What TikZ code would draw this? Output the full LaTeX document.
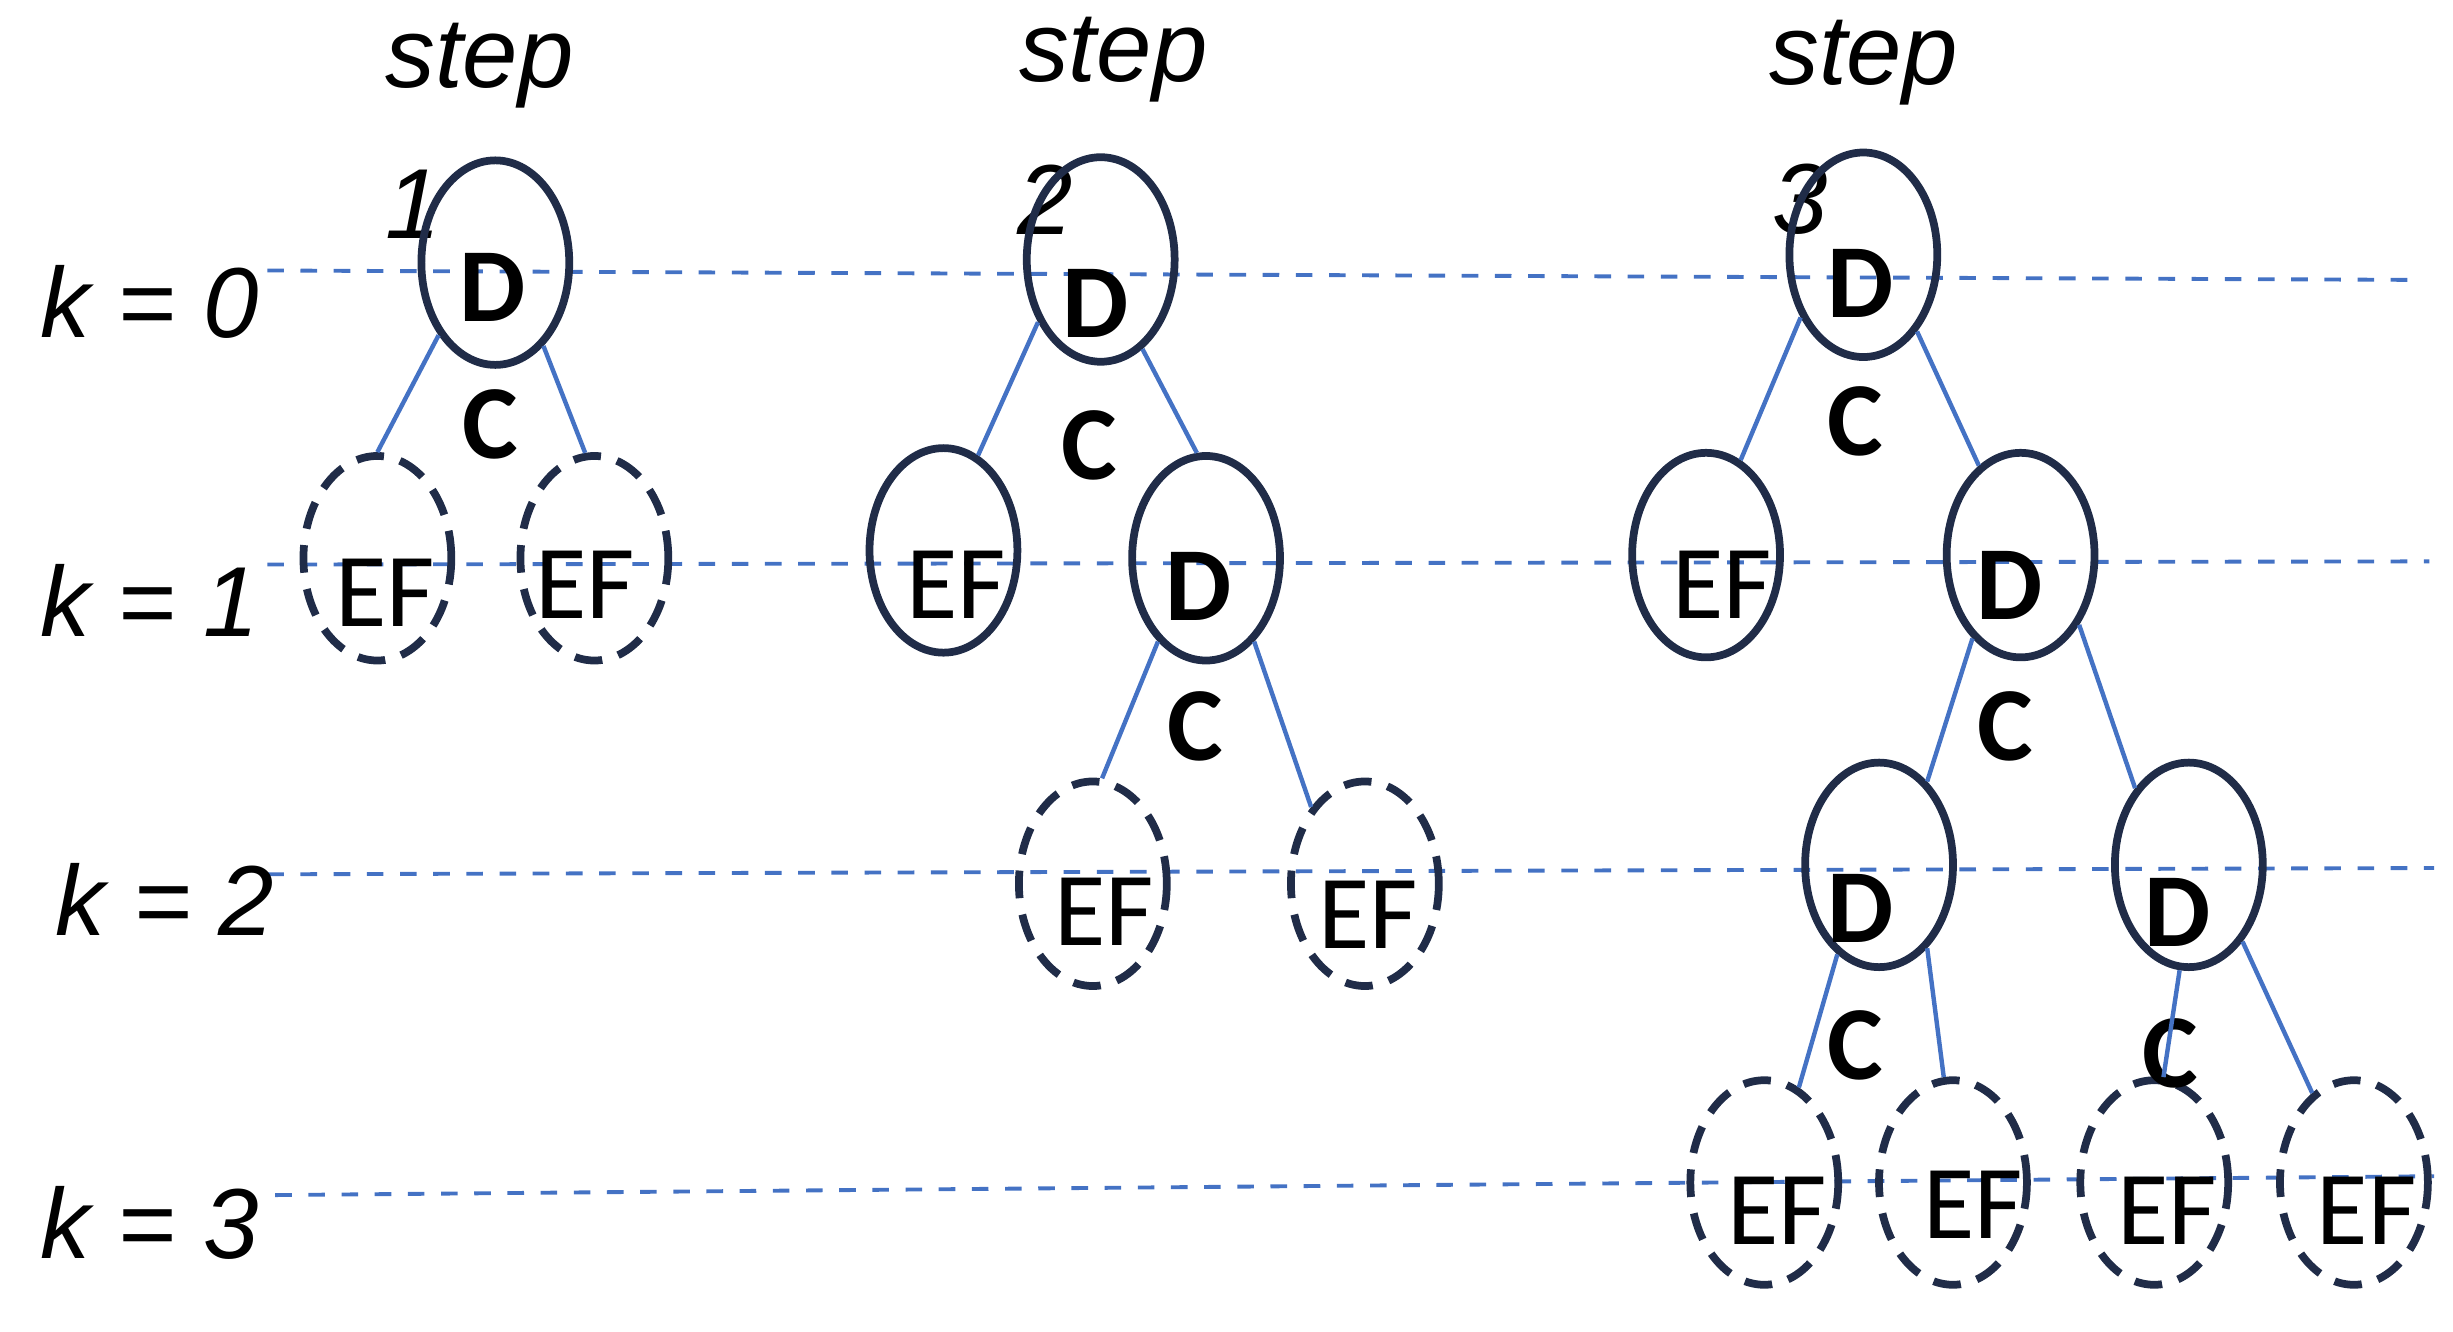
\documentclass[tikz,border=0pt]{standalone}
\usepackage{fontspec}
\setmainfont{Liberation Sans}
\newfontfamily\calib{Carlito}
\usetikzlibrary{shapes.geometric}
\definecolor{navy}{RGB}{32,44,72}
\definecolor{lblue}{RGB}{68,114,196}
\begin{document}
\begin{tikzpicture}[x=0.01cm,y=-0.01cm,
  ell/.style={ellipse,draw=navy,line width=1.4pt,minimum width=0.94cm,minimum height=1.3cm,inner sep=0pt},
  dell/.style={ell,dashed,dash pattern=on 5pt off 3pt},
  dtxt/.style={font=\calib\fontsize{19}{19}\selectfont\bfseries},
  etxt/.style={font=\calib\fontsize{19}{19}\selectfont},
  ctxt/.style={font=\calib\fontsize{19}{19}\selectfont\bfseries},
  ktxt/.style={font=\fontsize{18}{18}\selectfont\itshape},
  lvl/.style={lblue,dashed,line width=0.7pt},
  br/.style={lblue,line width=0.8pt}]
\useasboundingbox (0,0) rectangle (1560,847);
% level lines
\coordinate (l0a) at (170,172); \coordinate (l0b) at (1540,178);
\coordinate (l1a) at (170,359); \coordinate (l1b) at (1545,357);
\coordinate (l2a) at (170,556); \coordinate (l2b) at (1548,552);
\coordinate (l3a) at (175,760); \coordinate (l3b) at (1548,748);
\draw[lvl] (l0a)--(l0b); \draw[lvl] (l1a)--(l1b);
\draw[lvl] (l2a)--(l2b); \draw[lvl] (l3a)--(l3b);
\node[ktxt] (k0) at (95,192) {k = 0};
\node[ktxt] (k1) at (95,382) {k = 1};
\node[ktxt] (k2) at (105,572) {k = 2};
\node[ktxt] (k3) at (95,778) {k = 3};
\node[ktxt] (s1) at (305,42) {step};
\node[ktxt] (s2) at (708,38) {step};
\node[ktxt] (s3) at (1185,40) {step};
\node[ktxt] (n1) at (263,130) {1};
\node[ktxt] (n2) at (665,127) {2};
\node[ktxt] (n3) at (1145,127) {3};
% step 1
\node[ell] (a) at (315,167) {}; \node[dtxt] at (313,183) {D};
\node[dell] (a1) at (240,355) {}; \node[etxt] at (245,377) {EF};
\node[dell] (a2) at (378,355) {}; \node[etxt] at (372,372) {EF};
\node[ctxt] (ca) at (312,270) {C};
\draw[br] (a.232)--(a1.90); \draw[br] (a.300)--(a2.95);
% step 2
\node[ell] (b) at (700,165) {}; \node[dtxt] at (697,193) {D};
\node[ell] (b1) at (600,350) {}; \node[etxt] at (608,372) {EF};
\node[ell] (b2) at (767,355) {}; \node[dtxt] at (762,373) {D};
\node[dell] (b3) at (695,562) {}; \node[etxt] at (702,580) {EF};
\node[dell] (b4) at (868,562) {}; \node[etxt] at (870,582) {EF};
\node[ctxt] (cb) at (693,283) {C};
\node[ctxt] (cb2) at (760,462) {C};
\draw[br] (b.225)--(b1.70); \draw[br] (b.295)--(b2.95);
\draw[br] (b2.240)--(b3.85); \draw[br] (b2.300)--(b4.125);
% step 3
\node[ell] (c) at (1185,162) {}; \node[dtxt] at (1183,180) {D};
\node[ell] (c1) at (1085,353) {}; \node[etxt] at (1095,372) {EF};
\node[ell] (c2) at (1285,353) {}; \node[dtxt] at (1278,372) {D};
\node[ell] (c3) at (1195,550) {}; \node[dtxt] at (1183,578) {D};
\node[ell] (c4) at (1392,550) {}; \node[dtxt] at (1385,580) {D};
\node[dell] (c5) at (1122,752) {}; \node[etxt] at (1130,770) {EF};
\node[dell] (c6) at (1242,752) {}; \node[etxt] at (1255,766) {EF};
\node[dell] (c7) at (1370,752) {}; \node[etxt] at (1378,770) {EF};
\node[dell] (c8) at (1497,752) {}; \node[etxt] at (1505,770) {EF};
\node[ctxt] (cc) at (1180,268) {C};
\node[ctxt] (cc2) at (1275,462) {C};
\node[ctxt] (cc3) at (1180,665) {C};
\node[ctxt] (cc4) at (1380,670) {C};
\draw[br] (c.225)--(c1.70); \draw[br] (c.305)--(c2.115);
\draw[br] (c2.240)--(c3.60); \draw[br] (c2.310)--(c4.125);
\draw[br] (c3.245)--(c5.70); \draw[br] (c3.300)--(c6.95);
\draw[br] (c4.265)--(c7.85); \draw[br] (c4.305)--(c8.115);
\end{tikzpicture}
\end{document}
